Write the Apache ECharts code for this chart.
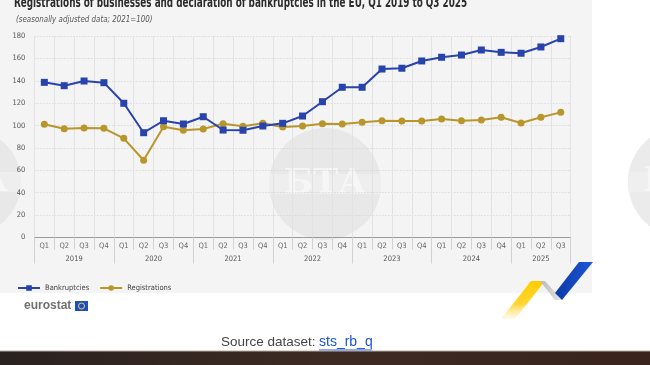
<!DOCTYPE html>
<html><head><meta charset="utf-8">
<script src="https://cdn.jsdelivr.net/npm/echarts@6/dist/echarts.min.js"></script>
<style>html,body{margin:0;padding:0;background:#fff}#c{width:650px;height:365px}</style>
</head><body><div id="c"></div>
<script>
const quarters = ['Q1','Q2','Q3','Q4','Q1','Q2','Q3','Q4','Q1','Q2','Q3','Q4','Q1','Q2','Q3','Q4','Q1','Q2','Q3','Q4','Q1','Q2','Q3','Q4','Q1','Q2','Q3'];
const years = ['2019','2020','2021','2022','2023','2024','2025'];
const yearCenters = [2, 6, 10, 14, 18, 22, 25.5];
const bankruptcies = [138.6,135.6,139.8,138.3,119.9,93.6,104.3,101.4,107.9,96.0,95.8,99.6,102.0,108.5,121.3,134.2,134.2,150.5,151.2,157.7,161.0,163.0,167.5,165.4,164.6,170.2,177.6];
const registrations = [101.2,97.2,97.8,97.5,88.6,69.0,99.0,95.9,96.9,101.7,99.3,102.0,98.7,99.6,101.7,101.3,102.9,104.3,104.0,104.0,105.9,104.3,105.0,107.4,102.3,107.4,111.8];
const seriesNames = ['Bankruptcies','Registrations'];
const titleText = 'Registrations of businesses and declaration of bankruptcies in the EU, Q1 2019 to Q3 2025';
const subtitleText = '(seasonally adjusted data; 2021=100)';

const NARROW = "'DejaVu Sans Condensed',sans-serif";
const chart = echarts.init(document.getElementById('c'), null, {renderer:'canvas'});

function watermark(cx, cy, r){
  return {type:'group', z:-5, children:[
    {type:'circle', shape:{cx:cx, cy:cy, r:r}, style:{fill:'#e4e4e4', opacity:0.75}},
    {type:'rect', shape:{x:cx-r, y:cy-10, width:2*r, height:20}, style:{fill:'#f1f1f1', opacity:0.6}},
    {type:'text', style:{x:cx, y:cy, text:'БТА', fill:'#f6f6f6', font:'bold 34px DejaVu Serif', align:'center', verticalAlign:'middle', opacity:0.9}}
  ]};
}

chart.setOption({
  backgroundColor:'#ffffff',
  animation:false,
  legend:{data:seriesNames, left:12, top:279, itemWidth:22, itemHeight:7, itemGap:10,
    textStyle:{fontFamily:NARROW, fontSize:7.5, color:'#444'}},
  grid:{left:34.4, right:79.3, top:36, bottom:127.5, containLabel:false},
  xAxis:[
    {type:'category', data:quarters, boundaryGap:true,
      axisLine:{show:true, lineStyle:{color:'#9a9a9a', width:1}},
      axisTick:{show:true, interval:0, length:12, lineStyle:{color:'#d2d2d2'}},
      axisLabel:{interval:0, margin:5, fontFamily:NARROW, fontSize:7.5, color:'#666'},
      splitLine:{show:true, interval:0, lineStyle:{color:'#e2e2e2', width:1}}},
    {type:'category', data:quarters, boundaryGap:true, position:'bottom',
      axisLine:{show:false},
      axisTick:{show:true, interval:function(i){return i%4===0;}, length:26, lineStyle:{color:'#d2d2d2'}},
      axisLabel:{show:false}, splitLine:{show:false}},
    {type:'value', min:0, max:27, interval:0.5, position:'bottom',
      axisLine:{show:false}, axisTick:{show:false}, splitLine:{show:false},
      axisLabel:{show:true, margin:18, fontFamily:NARROW, fontSize:7.5, color:'#555', hideOverlap:false,
        formatter:function(v){const i = yearCenters.indexOf(v); return i>=0 ? years[i] : '';}}}
  ],
  yAxis:{type:'value', min:0, max:180, interval:20,
    axisLine:{show:false}, axisTick:{show:false},
    axisLabel:{margin:9, fontFamily:NARROW, fontSize:7.5, color:'#555'},
    splitLine:{show:true, lineStyle:{color:'#cfcfcf', type:[1,2], width:1}}},
  series:[
    {name:seriesNames[0], type:'line', data:bankruptcies, xAxisIndex:0, symbol:'rect', symbolSize:7,
      itemStyle:{color:'#2843ac'}, lineStyle:{color:'#2843ac', width:2}, z:4},
    {name:seriesNames[1], type:'line', data:registrations, xAxisIndex:0, symbol:'circle', symbolSize:7,
      itemStyle:{color:'#b8962b'}, lineStyle:{color:'#b8962b', width:2}, z:3}
  ],
  graphic:[
    {type:'rect', z:-10, shape:{x:0, y:0, width:592, height:293}, style:{fill:'#f4f4f4'}},
    watermark(-33, 182, 54),
    watermark(325, 184, 56),
    watermark(684, 182, 56),
    {type:'text', z:5, x:14, y:-3.5, scaleX:0.70, style:{text:titleText, fill:'#2b2b2b', font:'bold 14px "DejaVu Sans Condensed"', verticalAlign:'top'}},
    {type:'text', z:5, x:16, y:20, scaleX:0.93, style:{text:subtitleText, fill:'#555', font:'italic 8.5px "DejaVu Sans Condensed"', verticalAlign:'middle'}},
    {type:'text', z:5, style:{x:24, y:306, text:'eurostat', fill:'#707070', font:'bold 12px "Liberation Sans"', verticalAlign:'middle'}},
    {type:'rect', z:5, shape:{x:75, y:301, width:13, height:10}, style:{fill:'#1d4fc4'}},
    {type:'circle', z:6, shape:{cx:81.5, cy:306, r:3}, style:{fill:'none', stroke:'#f2d13a', lineWidth:1}},
    {type:'polygon', z:5, shape:{points:[[531,281],[545,281],[515,319],[501,319]]},
      style:{fill:new echarts.graphic.LinearGradient(0,0,0,1,[{offset:0,color:'#ffcc00'},{offset:0.6,color:'#ffd633'},{offset:1,color:'rgba(255,230,150,0.2)'}])}},
    {type:'polygon', z:5, shape:{points:[[540,281],[545,281],[562,300],[555,300]]},
      style:{fill:new echarts.graphic.LinearGradient(0,0,1,0,[{offset:0,color:'#b8b8b8'},{offset:1,color:'#e6e6e6'}])}},
    {type:'polygon', z:5, shape:{points:[[579,262],[593,262],[562,300],[555,293]]},
      style:{fill:new echarts.graphic.LinearGradient(0,0,1,0,[{offset:0,color:'#0c3aa8'},{offset:1,color:'#1f55d6'}])}},
    {type:'text', z:5, style:{x:221, y:342, text:'Source dataset:', fill:'#444', font:'13.5px "Liberation Sans"', verticalAlign:'middle'}},
    {type:'text', z:5, style:{x:319, y:342, text:'sts_rb_q', fill:'#1a53d6', font:'14px "Liberation Sans"', verticalAlign:'middle'}},
    {type:'line', z:5, shape:{x1:319, y1:350, x2:372, y2:350}, style:{stroke:'#1a53d6', lineWidth:1}},
    {type:'rect', z:5, shape:{x:0, y:351, width:650, height:14},
      style:{fill:new echarts.graphic.LinearGradient(0,0,1,0,[{offset:0,color:'#2a2220'},{offset:0.5,color:'#3d2a22'},{offset:1,color:'#3a241d'}])}},
    {type:'line', z:5, shape:{x1:0, y1:351, x2:650, y2:351}, style:{stroke:'#b7aca6', lineWidth:1}}
  ]
});
</script></body></html>
